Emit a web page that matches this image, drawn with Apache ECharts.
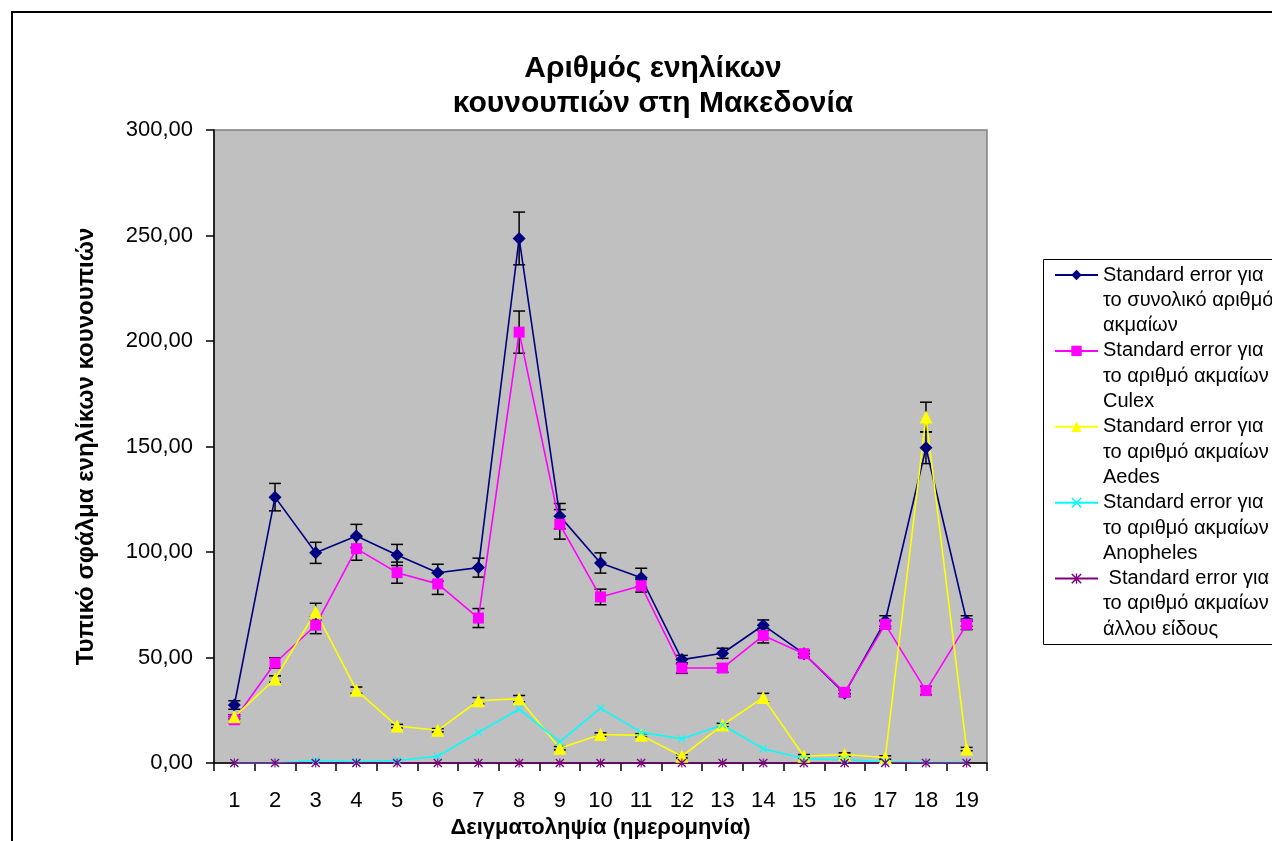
<!DOCTYPE html>
<html>
<head>
<meta charset="utf-8">
<script src="https://cdn.jsdelivr.net/npm/echarts@6/dist/echarts.min.js"></script>
<style>
html,body{margin:0;padding:0;background:#fff;}
#chart{width:1272px;height:841px;}
</style>
</head>
<body>
<div id="chart"></div>
<script>
const categories = ['1','2','3','4','5','6','7','8','9','10','11','12','13','14','15','16','17','18','19'];
const seriesNames = [
  'Standard error για\nτο συνολικό αριθμό\nακμαίων',
  'Standard error για\nτο αριθμό ακμαίων\nCulex',
  'Standard error για\nτο αριθμό ακμαίων\nAedes',
  'Standard error για\nτο αριθμό ακμαίων\nAnopheles',
  ' Standard error για\nτο αριθμό ακμαίων\nάλλου είδους'
];
const totalValues   = [27.5,126,99.6,107.6,98.6,90.2,92.6,248.6,117,94.8,87.8,49,52,65.3,51.8,33,67.3,149.4,67.3];
const totalErrors   = [2,6.5,5,5.5,5,4,4.5,12.5,6,4.8,4.5,2,2.4,2.5,1.5,1.5,2.5,7.5,2.5];
const culexValues   = [20.5,47.4,65.3,101.6,90.2,84.9,68.7,204.2,113.1,78.7,84,45,45,60.4,51.8,33.5,65.7,34.3,65.7];
const culexErrors   = [1.5,2.5,4,5.5,5,5,4.5,10,7,3.7,3,2.5,2,3.5,1.5,1,2,2,2.5];
const aedesValues   = [21.9,39.8,71.7,34.5,17.5,15.5,29.5,30.5,7,13.5,13.1,3.2,18,31,3.2,4,2.6,164,6.6];
const aedesErrors   = [1,1.5,4,1.5,0.8,0.8,1.5,1.5,0.8,0.8,0.8,0.8,0.8,2,0.8,0.8,0.8,7,0.8];
const anophValues   = [0,0,1.2,0.6,1.2,3.2,14.5,25.5,10,26,14.5,11.5,18,6.8,2,1.6,0.6,0.2,0.2];
const otherValues   = [0,0,0,0,0,0,0,0,0,0,0,0,0,0,0,0,0,0,0];
const yTicks = [0,50,100,150,200,250,300];

const FONT = '"Liberation Sans", Arial, sans-serif';
const xSym = 'path://M1,0 L5,4 L9,0 L10,1 L6,5 L10,9 L9,10 L5,6 L1,10 L0,9 L4,5 L0,1 Z';
const starSym = 'path://M1,0 L5,4 L9,0 L10,1 L6,5 L10,9 L9,10 L5,6 L1,10 L0,9 L4,5 L0,1 Z M4.4,0 L5.6,0 L5.6,10 L4.4,10 Z';

function errData(vals, errs){
  return vals.map((v,i)=>[i, v-errs[i], v+errs[i]]);
}
function renderErr(params, api){
  const x = api.value(0);
  const lo = api.coord([x, api.value(1)]);
  const hi = api.coord([x, api.value(2)]);
  const w = 6;
  const st = {stroke:'#000', lineWidth:1.5};
  return {type:'group', children:[
    {type:'line', shape:{x1:lo[0],y1:lo[1],x2:hi[0],y2:hi[1]}, style:st},
    {type:'line', shape:{x1:lo[0]-w,y1:lo[1],x2:lo[0]+w,y2:lo[1]}, style:st},
    {type:'line', shape:{x1:hi[0]-w,y1:hi[1],x2:hi[0]+w,y2:hi[1]}, style:st}
  ]};
}
function errSeries(vals, errs){
  return {type:'custom', renderItem:renderErr, data:errData(vals,errs),
    encode:{x:0,y:[1,2]}, z:3, silent:true, clip:false};
}
function lineSeries(name, data, color, symbol, size){
  return {type:'line', name:name, data:data, symbol:symbol, symbolSize:size,
    showAllSymbol:true, lineStyle:{color:color, width:1.6}, itemStyle:{color:color},
    z:4, animation:false};
}

const LH = 25.3;
const chart = echarts.init(document.getElementById('chart'), null, {renderer:'canvas'});
chart.setOption({
  animation:false,
  backgroundColor:'#ffffff',
  textStyle:{fontFamily:FONT},
  title:{
    text:'Αριθμός ενηλίκων\nκουνουπιών στη Μακεδονία',
    left:648, textAlign:'center', top:46,
    textStyle:{fontFamily:FONT, fontSize:30, fontWeight:'bold', color:'#000', lineHeight:35}
  },
  graphic:[
    {type:'rect', shape:{x:12,y:12,width:1300,height:900}, style:{fill:null, stroke:'#000', lineWidth:2}, z:-10, silent:true},
    {type:'rect', shape:{x:1043.5,y:259.5,width:260,height:385}, style:{fill:'#fff', stroke:'#000', lineWidth:1}, z:-5, silent:true}
  ],
  legend:{
    orient:'vertical', left:1054, top:275 - 2.5*LH, padding:0,
    itemWidth:43, itemHeight:13, itemGap:-2*LH,
    data:seriesNames,
    formatter:function(n){ return '\n\n' + n; },
    textStyle:{fontFamily:FONT, fontSize:20, color:'#000', lineHeight:LH}
  },
  grid:{left:214, right:285, top:130, bottom:78, outerBoundsMode:'none', show:true, backgroundColor:'#C0C0C0', borderColor:'#808080', borderWidth:1.5},
  xAxis:{
    type:'category', data:categories, boundaryGap:true,
    axisLine:{lineStyle:{color:'#000', width:1.5}},
    axisTick:{show:true, interval:0, length:8, lineStyle:{color:'#000', width:1.5}},
    axisLabel:{fontFamily:FONT, fontSize:22, color:'#000', margin:27, interval:0},
    name:'Δειγματοληψία (ημερομηνία)', nameLocation:'middle', nameGap:52,
    nameTextStyle:{fontFamily:FONT, fontSize:22, fontWeight:'bold', color:'#000'},
    splitLine:{show:false}
  },
  yAxis:{
    type:'value', min:0, max:300, interval:50,
    axisLine:{show:true, lineStyle:{color:'#000', width:1.5}},
    axisTick:{show:true, length:8, lineStyle:{color:'#000', width:1.5}},
    axisLabel:{fontFamily:FONT, fontSize:22, color:'#000', margin:21,
      formatter:v=>v.toFixed(2).replace('.',',')},
    splitLine:{show:false},
    name:'Τυπικό σφάλμα ενηλίκων κουνουπιών', nameLocation:'middle', nameGap:116, nameRotate:90,
    nameTextStyle:{fontFamily:FONT, fontSize:24, fontWeight:'bold', color:'#000'}
  },
  series:[
    errSeries(totalValues,totalErrors),
    errSeries(culexValues,culexErrors),
    errSeries(aedesValues,aedesErrors),
    lineSeries(seriesNames[0], totalValues, '#000080', 'diamond', 13),
    lineSeries(seriesNames[1], culexValues, '#FF00FF', 'rect', 11),
    lineSeries(seriesNames[2], aedesValues, '#FFFF00', 'triangle', 13),
    lineSeries(seriesNames[3], anophValues, '#00FFFF', xSym, 8),
    lineSeries(seriesNames[4], otherValues, '#800080', starSym, 9)
  ]
});
</script>
</body>
</html>
